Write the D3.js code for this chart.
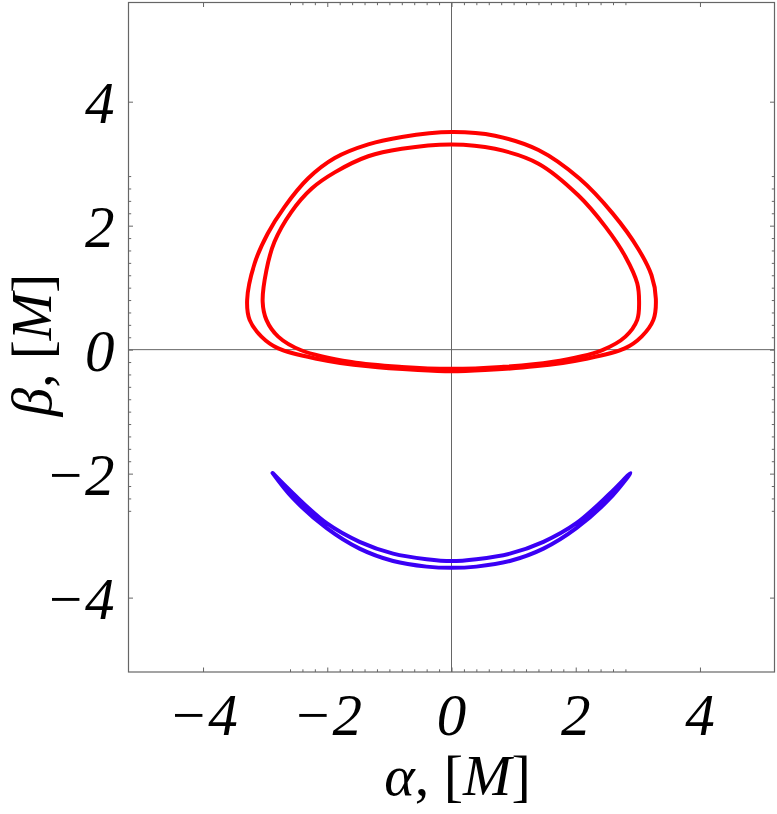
<!DOCTYPE html>
<html>
<head>
<meta charset="utf-8">
<script src="https://cdn.jsdelivr.net/npm/d3@7"></script>
<style>
  body { margin: 0; background: #fff; }
  svg { display: block; }
</style>
</head>
<body>
<div id="chart"></div>
<script>
// values, in units of M
var redOuter = [
  [0.00, 3.51], [-0.80, 3.43], [-1.34, 3.31], [-1.88, 3.09], [-2.31, 2.76],
  [-2.69, 2.30], [-2.96, 1.87], [-3.17, 1.39], [-3.29, 0.80], [-3.25, 0.48],
  [-3.06, 0.21], [-2.79, 0.02], [-2.15, -0.15], [-1.34, -0.27], [-0.54, -0.33],
  [0.00, -0.35], [0.54, -0.33], [1.34, -0.27], [2.15, -0.15], [2.79, 0.02],
  [3.06, 0.21], [3.25, 0.48], [3.29, 0.82], [3.22, 1.20], [3.01, 1.62],
  [2.60, 2.19], [2.06, 2.76], [1.40, 3.22], [0.70, 3.45]
];
var redInner = [
  [0.00, 3.31], [-0.80, 3.24], [-1.34, 3.12], [-1.88, 2.86], [-2.25, 2.60],
  [-2.58, 2.22], [-2.85, 1.74], [-2.98, 1.28], [-3.04, 0.77], [-2.98, 0.48],
  [-2.79, 0.21], [-2.42, -0.01], [-1.61, -0.20], [-0.80, -0.28], [0.00, -0.31],
  [0.80, -0.28], [1.61, -0.20], [2.42, -0.01], [2.80, 0.21], [2.99, 0.48],
  [3.02, 0.77], [2.99, 1.07], [2.80, 1.50], [2.48, 1.98], [2.04, 2.49],
  [1.40, 3.00], [0.70, 3.24]
];
var blueUpper = [
  [-2.88, -1.99], [-2.55, -2.32], [-2.01, -2.80], [-1.48, -3.10], [-0.94, -3.29],
  [-0.40, -3.38], [0.00, -3.41], [0.40, -3.38], [0.94, -3.29], [1.48, -3.10],
  [2.01, -2.80], [2.55, -2.32], [2.88, -1.99]
];
var blueLower = [
  [2.88, -1.99], [2.55, -2.40], [2.01, -2.88], [1.48, -3.21], [0.94, -3.41],
  [0.40, -3.50], [0.00, -3.52], [-0.40, -3.50], [-0.94, -3.41], [-1.48, -3.21],
  [-2.01, -2.88], [-2.55, -2.40], [-2.88, -1.99]
];
var majorTicks = [-4, -2, 0, 2, 4];
var tickLabels = ["\u22124", "\u22122", "0", "2", "4"];

var xDomain = [-5.2, 5.2];
var yDomain = [-5.2, 5.6];

var W = 777, H = 814;
var margin = {top: 2.5, right: 2.5, bottom: 142, left: 128.5};
var width = W - margin.left - margin.right,
    height = H - margin.top - margin.bottom;

var x = d3.scaleLinear().domain(xDomain).range([0, width]);
var y = d3.scaleLinear().domain(yDomain).range([height, 0]);

// minor ticks every 0.4 as in the frame
var minorTicks = d3.range(-26, 29, 2).map(function(d) { return d / 10; })
  .filter(function(d) { return majorTicks.indexOf(d) < 0; });

var svg = d3.select("#chart").append("svg")
    .attr("width", W)
    .attr("height", H);
var g = svg.append("g")
    .attr("transform", "translate(" + margin.left + "," + margin.top + ")");

var frameColor = "#666";

// zero lines
g.append("line")
  .attr("x1", x(0)).attr("x2", x(0)).attr("y1", 0).attr("y2", height)
  .attr("stroke", frameColor).attr("stroke-width", 1);
g.append("line")
  .attr("x1", 0).attr("x2", width).attr("y1", y(0)).attr("y2", y(0))
  .attr("stroke", frameColor).attr("stroke-width", 1);

// frame ticks, pointing inward on all four sides
function addTicks(axis, transform, vals, size) {
  var a = g.append("g")
    .attr("transform", transform)
    .call(axis.tickValues(vals).tickSize(-size).tickFormat(""));
  a.select(".domain").remove();
  a.selectAll("line").attr("stroke", frameColor).attr("stroke-width", 1);
  return a;
}
addTicks(d3.axisBottom(x), "translate(0," + height + ")", majorTicks, 4.5);
addTicks(d3.axisBottom(x), "translate(0," + height + ")", minorTicks, 2.7);
addTicks(d3.axisTop(x), "translate(0,0)", majorTicks, 4.5);
addTicks(d3.axisTop(x), "translate(0,0)", minorTicks, 2.7);
addTicks(d3.axisLeft(y), "translate(0,0)", majorTicks, 4.5);
addTicks(d3.axisLeft(y), "translate(0,0)", minorTicks, 2.7);
addTicks(d3.axisRight(y), "translate(" + width + ",0)", majorTicks, 4.5);
addTicks(d3.axisRight(y), "translate(" + width + ",0)", minorTicks, 2.7);

// frame
g.append("rect")
  .attr("x", 0).attr("y", 0).attr("width", width).attr("height", height)
  .attr("fill", "none").attr("stroke", frameColor).attr("stroke-width", 1.2);

// tick labels
var labelFont = "'Liberation Serif', 'Times New Roman', serif";
g.selectAll(".xlab")
  .data(majorTicks)
  .enter().append("text")
  .attr("class", "xlab")
  .attr("x", function(d) { return x(d); })
  .attr("y", height + 63)
  .attr("text-anchor", "middle")
  .style("font-family", labelFont)
  .style("font-style", "italic")
  .style("font-size", "59px")
  .text(function(d, i) { return tickLabels[i]; });

g.selectAll(".ylab")
  .data(majorTicks)
  .enter().append("text")
  .attr("class", "ylab")
  .attr("x", -14)
  .attr("y", function(d) { return y(d); })
  .attr("dy", "0.36em")
  .attr("text-anchor", "end")
  .style("font-family", labelFont)
  .style("font-style", "italic")
  .style("font-size", "59px")
  .text(function(d, i) { return tickLabels[i]; });

// curves
var line = d3.line()
  .x(function(d) { return x(d[0]); })
  .y(function(d) { return y(d[1]); });

g.append("path")
  .datum(redOuter)
  .attr("d", line.curve(d3.curveCatmullRomClosed.alpha(0.5)))
  .attr("fill", "none").attr("stroke", "#ff0000").attr("stroke-width", 4);
g.append("path")
  .datum(redInner)
  .attr("d", line.curve(d3.curveCatmullRomClosed.alpha(0.5)))
  .attr("fill", "none").attr("stroke", "#ff0000").attr("stroke-width", 4);
g.append("path")
  .datum(blueUpper.concat(blueLower.slice(1)))
  .attr("d", line.curve(d3.curveCatmullRom.alpha(0.5)))
  .attr("fill", "none").attr("stroke", "#3a00f5").attr("stroke-width", 4)
  .attr("stroke-linejoin", "round").attr("stroke-linecap", "round");

// axis titles
var xt = svg.append("text")
  .attr("x", margin.left + x(0) + 6)
  .attr("y", 795)
  .attr("text-anchor", "middle")
  .style("font-family", labelFont)
  .style("font-size", "58px");
xt.append("tspan").style("font-style", "italic").text("\u03b1");
xt.append("tspan").text(", [");
xt.append("tspan").style("font-style", "italic").text("M");
xt.append("tspan").text("]");

var yt = svg.append("text")
  .attr("transform", "translate(51," + 345 + ") rotate(-90)")
  .attr("text-anchor", "middle")
  .style("font-family", labelFont)
  .style("font-size", "57px");
yt.append("tspan").style("font-style", "italic").text("\u03b2");
yt.append("tspan").text(", [");
yt.append("tspan").style("font-style", "italic").text("M");
yt.append("tspan").text("]");
</script>
</body>
</html>
